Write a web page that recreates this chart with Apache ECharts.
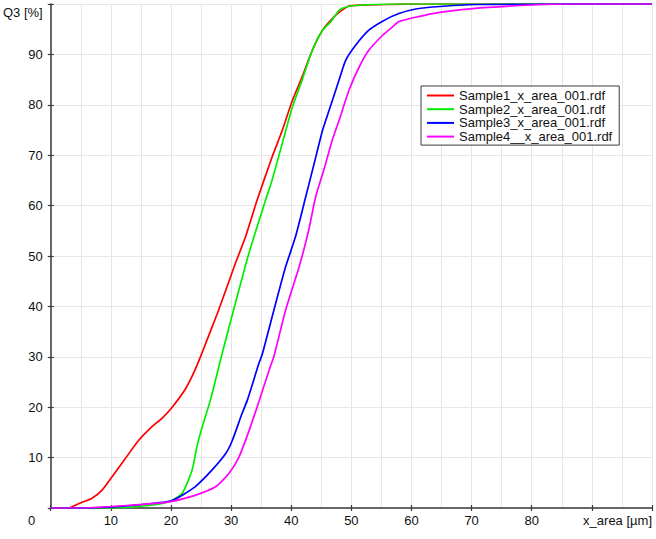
<!DOCTYPE html>
<html>
<head>
<meta charset="utf-8">
<script src="https://cdn.jsdelivr.net/npm/echarts@6/dist/echarts.min.js"></script>
<style>
html,body{margin:0;padding:0;background:#fff;}
#chart{width:656px;height:539px;}
</style>
</head>
<body>
<div id="chart"></div>
<script>
// ---- data ----
var seriesNames = ['Sample1_x_area_001.rdf', 'Sample2_x_area_001.rdf', 'Sample3_x_area_001.rdf', 'Sample4__x_area_001.rdf'];
var seriesColors = ['#ff0000', '#00ee00', '#0000ff', '#ff00ff'];

var s1x = [0, 3, 3.5, 4.9, 6.8, 8.5, 10.2, 12.4, 14.6, 16.8, 18.5, 20.2, 22.4, 24, 25.2, 26.6, 27.9, 30.7, 32.4, 34.3, 36.8, 38.5, 40.2, 41.8, 43.5, 45.2, 47.4, 49.6, 52, 56, 62, 100];
var s1y = [0, 0, 0.2, 1, 1.9, 3.5, 6.2, 9.8, 13.4, 16.1, 17.8, 20, 23.6, 27.4, 30.9, 35.2, 39.2, 48.5, 53.8, 61, 69.6, 74.9, 80.9, 85.5, 90.8, 94.8, 97.8, 99.6, 99.8, 99.9, 100, 100];

var s2x = [0, 10, 16.3, 19.5, 21.8, 23.5, 24.3, 25.2, 26.55, 28.5, 30.7, 32.95, 35.7, 36.8, 38.5, 40.2, 41.8, 43.5, 45.2, 46.6, 48, 49.5, 52, 58, 100];
var s2y = [0, 0, 0.5, 1.2, 2.8, 7.5, 12.1, 16.1, 21.4, 30.6, 40.6, 50.5, 61, 65, 72.3, 79.6, 84.9, 90.8, 94.8, 96.5, 98.8, 99.5, 99.8, 100, 100];

var s3x = [0, 5, 10.2, 15.2, 20.2, 24, 26.8, 29.1, 30.2, 31.8, 32.7, 34.6, 35.2, 37.1, 39.05, 40.7, 42.4, 43.8, 45.2, 46.3, 47.95, 49.05, 50.7, 52.9, 55.2, 57.9, 60.7, 63.5, 70.7, 100];
var s3y = [0, 0, 0.2, 0.7, 1.5, 4.2, 7.5, 10.8, 13.4, 18.7, 21.4, 28.6, 30.6, 39.2, 47.8, 53.8, 61.7, 68.3, 74.9, 78.9, 84.9, 88.8, 91.8, 94.8, 96.6, 98.1, 99, 99.4, 99.9, 100];

var s4x = [0, 5, 10, 15.2, 18.5, 20.2, 24, 27.4, 29.6, 31.3, 33, 34.7, 36.3, 37.1, 39.05, 41.3, 42.9, 44.05, 45.4, 46.8, 47.95, 49.6, 51.3, 52.9, 55.2, 56.8, 57.9, 63.5, 70.2, 80, 86, 100];
var s4y = [0, 0, 0.3, 0.7, 1.0, 1.3, 2.5, 4.2, 6.8, 10.1, 15.4, 21.4, 27.3, 30, 39.2, 47.8, 55.1, 61.7, 67, 72.9, 76.9, 82.9, 87.5, 90.8, 93.8, 95.4, 96.5, 98.1, 99.1, 99.8, 100, 100];

var xTicks = [0, 10, 20, 30, 40, 50, 60, 70, 80, 90, 100];
var yTicks = [0, 10, 20, 30, 40, 50, 60, 70, 80, 90, 100];
var xName = 'x_area [µm]';
var yName = 'Q3 [%]';

// ---- chart ----
function pairs(xs, ys) { return xs.map(function (x, i) { return [x, ys[i]]; }); }
var allX = [s1x, s2x, s3x, s4x];
var allY = [s1y, s2y, s3y, s4y];

var FONT = 'Liberation Sans, Arial, sans-serif';
var AX = '#3a3a3a';
var GRID = '#e6e6e6';

var chart = echarts.init(document.getElementById('chart'), null, { renderer: 'svg' });

var xMin = xTicks[0], xMax = xTicks[xTicks.length - 1];
var yMin = yTicks[0], yMax = yTicks[yTicks.length - 1];

chart.setOption({
  animation: false,
  backgroundColor: '#ffffff',
  grid: { left: 49, right: 4, top: 4, bottom: 31 },
  legend: {
    orient: 'vertical',
    left: 421, top: 86,
    padding: [3, 7, 2, 6],
    itemGap: 0.7,
    itemWidth: 27, itemHeight: 2,
    icon: 'rect',
    borderColor: AX, borderWidth: 1, borderRadius: 0,
    backgroundColor: '#ffffff',
    textStyle: { fontFamily: FONT, fontSize: 13, color: '#111', lineHeight: 13 },
    data: seriesNames
  },
  xAxis: [{
    type: 'value', min: xMin, max: xMax, interval: 10,
    name: xName, nameLocation: 'end', nameGap: 0,
    nameTextStyle: { fontFamily: FONT, fontSize: 13, color: '#111', align: 'right', verticalAlign: 'top', padding: [6, 0, 0, 0] },
    axisLine: { show: true, lineStyle: { color: AX, width: 1.5 } },
    axisTick: { show: true, length: 3, lineStyle: { color: AX, width: 1.2 } },
    axisLabel: {
      margin: 6, fontFamily: FONT, fontSize: 13, color: '#111',
      formatter: function (v) { return (v <= 0 || v >= 90) ? '' : String(v); }
    },
    splitLine: { show: true, lineStyle: { color: GRID, width: 1 } },
    minorTick: { show: false, splitNumber: 2 },
    minorSplitLine: { show: true, lineStyle: { color: GRID, width: 1 } }
  }, {
    type: 'value', min: xMin, max: xMax, interval: 10, position: 'bottom',
    axisLine: { show: false },
    axisTick: { show: true, inside: true, length: 3, lineStyle: { color: AX, width: 1.2 } },
    axisLabel: { show: false },
    splitLine: { show: false }
  }],
  yAxis: [{
    type: 'value', min: yMin, max: yMax, interval: 10,
    name: yName, nameLocation: 'end', nameGap: -8,
    nameTextStyle: { fontFamily: FONT, fontSize: 13, color: '#111', align: 'right', verticalAlign: 'middle', padding: [0, 8, 0, 0] },
    axisLine: { show: true, lineStyle: { color: AX, width: 1.5 } },
    axisTick: { show: true, length: 3, lineStyle: { color: AX, width: 1.2 } },
    axisLabel: {
      margin: 8, fontFamily: FONT, fontSize: 13, color: '#111',
      formatter: function (v) { return (v <= 0 || v >= 100) ? '' : String(v); }
    },
    splitLine: { show: true, lineStyle: { color: GRID, width: 1 } }
  }, {
    type: 'value', min: yMin, max: yMax, interval: 10, position: 'left',
    axisLine: { show: false },
    axisTick: { show: true, inside: true, length: 3, lineStyle: { color: AX, width: 1.2 } },
    axisLabel: { show: false },
    splitLine: { show: false }
  }],
  graphic: [{
    type: 'text', left: 28, top: 514,
    style: { text: '0', fontFamily: FONT, fontSize: 13, fill: '#111' }
  }],
  series: seriesNames.map(function (name, i) {
    return {
      name: name, type: 'line',
      xAxisIndex: 0, yAxisIndex: 0,
      data: pairs(allX[i], allY[i]),
      showSymbol: false, symbol: 'none',
      smooth: 0.2,
      color: seriesColors[i],
      lineStyle: { color: seriesColors[i], width: 1.7 }
    };
  })
});
</script>
</body>
</html>
